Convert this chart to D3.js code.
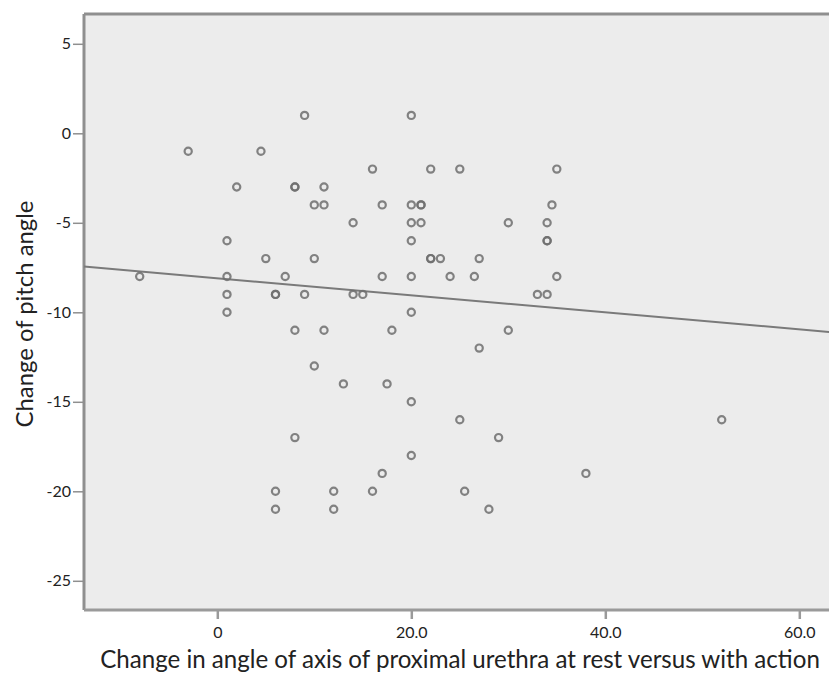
<!DOCTYPE html>
<html>
<head>
<meta charset="utf-8">
<script src="https://cdn.jsdelivr.net/npm/d3@7"></script>
<style>
  body { margin: 0; background: #fff; }
  text { font-family: Lato, "Open Sans", sans-serif; fill: #222; }
</style>
</head>
<body>
<div id="scatter"></div>
<script>
// Data
var changeAxis  = [-8, -3, 2, 4.5, 1, 5, 1, 1, 1, 6, 6, 7, 8, 8, 9, 10, 11, 11, 10, 9,
                   8, 11, 10, 13, 8, 6, 6, 12, 12, 14, 15, 14, 16, 17, 17, 18, 17.5, 17, 16, 20,
                   20, 21, 21, 20, 21, 20, 20, 20, 20, 20, 22, 22, 22, 23, 24, 25, 26.5, 27, 27, 25,
                   25.5, 28, 29, 30, 30, 33, 34, 34, 34, 34, 34.5, 35, 35, 38, 52];
var changePitch = [-8, -1, -3, -1, -6, -7, -8, -9, -10, -9, -9, -8, -3, -3, 1, -4, -3, -4, -7, -9,
                   -11, -11, -13, -14, -17, -20, -21, -20, -21, -9, -9, -5, -2, -4, -8, -11, -14, -19, -20, 1,
                   -4, -4, -4, -5, -5, -6, -8, -10, -15, -18, -2, -7, -7, -7, -8, -2, -8, -7, -12, -16,
                   -20, -21, -17, -5, -11, -9, -9, -5, -6, -6, -4, -2, -8, -19, -16];
var xTicks = [0, 20, 40, 60];
var yTicks = [5, 0, -5, -10, -15, -20, -25];
var fitIntercept = -8.1;
var fitSlope = -0.0475;

var pts = changeAxis.map(function(d, i) { return {x: d, y: changePitch[i]}; });

// Size settings
var width = 829, height = 675;
var plotLeft = 84, plotRight = 832, plotTop = 14, plotBottom = 610;

var xScale = d3.scaleLinear().domain([0, 60]).range([217.3, 799.3]);
var yScale = d3.scaleLinear().domain([-25, 5]).range([580.8, 43.8]);

var svg = d3.select("#scatter").append("svg")
    .attr("width", width)
    .attr("height", height);

// plot background
svg.append("rect")
    .attr("x", plotLeft).attr("y", plotTop)
    .attr("width", plotRight - plotLeft).attr("height", plotBottom - plotTop)
    .attr("fill", "#ececec");

// frame lines (top, left, bottom)
svg.append("line")
    .attr("x1", plotLeft).attr("x2", plotRight).attr("y1", plotTop).attr("y2", plotTop)
    .attr("stroke", "#8f8f8f").attr("stroke-width", 3);
svg.append("line")
    .attr("x1", plotLeft).attr("x2", plotLeft).attr("y1", plotTop).attr("y2", plotBottom)
    .attr("stroke", "#8f8f8f").attr("stroke-width", 3);
svg.append("line")
    .attr("x1", plotLeft).attr("x2", plotRight).attr("y1", plotBottom).attr("y2", plotBottom)
    .attr("stroke", "#9a9a9a").attr("stroke-width", 3);

// Y axis
var yAxis = d3.axisLeft(yScale).tickValues(yTicks).tickSize(10).tickPadding(2)
    .tickFormat(function(d) { return d; });
var gy = svg.append("g")
    .attr("transform", "translate(" + (plotLeft - 1) + ",0)")
    .call(yAxis);
gy.select(".domain").remove();
gy.selectAll(".tick line").attr("stroke", "#8f8f8f").attr("stroke-width", 1.5);
gy.selectAll(".tick text").style("font-size", "16px").attr("fill", "#222");

// X axis
var xAxis = d3.axisBottom(xScale).tickValues(xTicks).tickSize(8).tickPadding(8)
    .tickFormat(function(d) { return d === 0 ? "0" : d3.format(".1f")(d); });
var gx = svg.append("g")
    .attr("transform", "translate(0," + (plotBottom + 1) + ")")
    .call(xAxis);
gx.select(".domain").remove();
gx.selectAll(".tick line").attr("stroke", "#9a9a9a").attr("stroke-width", 2.5);
gx.selectAll(".tick text").style("font-size", "16px").attr("fill", "#222");

// regression line
svg.append("line")
    .attr("x1", plotLeft).attr("x2", plotRight)
    .attr("y1", yScale(fitIntercept + fitSlope * xScale.invert(plotLeft)))
    .attr("y2", yScale(fitIntercept + fitSlope * xScale.invert(plotRight)))
    .attr("stroke", "#7a7a7a").attr("stroke-width", 2);

// points
svg.selectAll(".dot")
    .data(pts)
  .enter().append("circle")
    .attr("class", "dot")
    .attr("r", 3.6)
    .attr("cx", function(d) { return xScale(d.x); })
    .attr("cy", function(d) { return yScale(d.y); })
    .attr("fill", "none")
    .attr("stroke", "#6e6e6e")
    .attr("stroke-opacity", 0.85)
    .attr("stroke-width", 2.2);

// axis titles, fitted to the width seen in the picture
function fitText(sel, target) {
    var len = sel.node().getComputedTextLength();
    sel.style("font-size", (20 * target / len) + "px");
}

var xTitle = svg.append("text")
    .attr("x", 460).attr("y", 668)
    .attr("text-anchor", "middle")
    .style("font-size", "20px")
    .text("Change in angle of axis of proximal urethra at rest versus with action");
fitText(xTitle, 720);

var yTitle = svg.append("text")
    .attr("transform", "translate(33,314) rotate(-90)")
    .attr("text-anchor", "middle")
    .style("font-size", "20px")
    .text("Change of pitch angle");
fitText(yTitle, 227);
</script>
</body>
</html>
